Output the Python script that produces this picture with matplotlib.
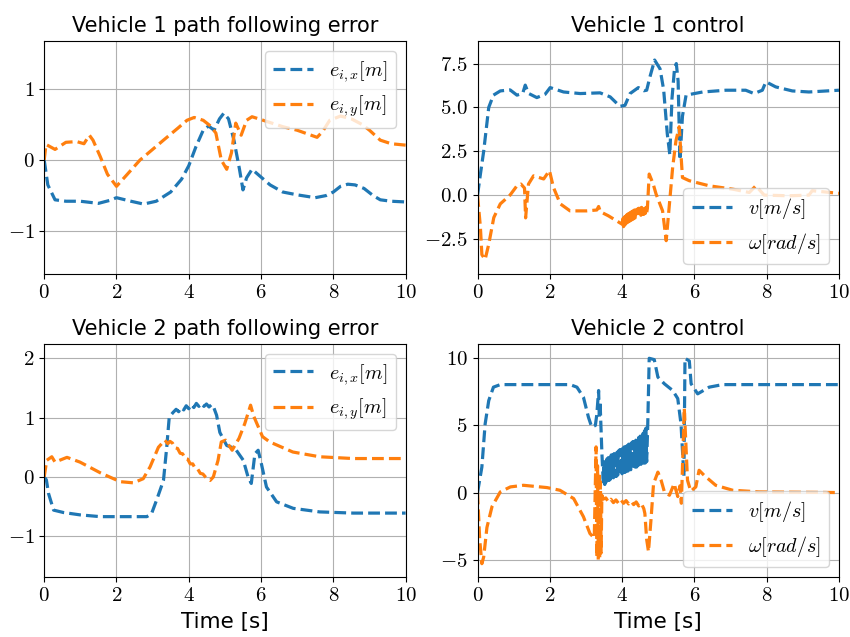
import matplotlib
matplotlib.use("Agg")
import matplotlib.pyplot as plt

plt.rcParams["font.family"] = "cmr10"
plt.rcParams["mathtext.fontset"] = "cm"
plt.rcParams["axes.formatter.use_mathtext"] = True
plt.rcParams["axes.unicode_minus"] = True

# ---- Vehicle 1 path following error ----
t_e1x = [0.0, 0.1, 0.3, 0.6, 1.0, 1.5, 1.8, 2.0, 2.4, 2.75, 3.1, 3.5, 3.8, 4.0, 4.2, 4.4, 4.55,
         4.7, 4.85, 4.97, 5.1, 5.25, 5.4, 5.5, 5.6, 5.75, 6.0, 6.25, 6.6, 7.0, 7.5, 7.8, 8.0, 8.2,
         8.4, 8.6, 8.85, 9.1, 9.3, 9.6, 10.0]
e1x = [0.0, -0.35, -0.56, -0.58, -0.58, -0.61, -0.57, -0.53, -0.58, -0.62, -0.58, -0.45, -0.27,
       -0.08, 0.19, 0.42, 0.48, 0.42, 0.58, 0.66, 0.58, 0.28, -0.12, -0.42, -0.25, -0.13, -0.24,
       -0.35, -0.45, -0.49, -0.53, -0.50, -0.45, -0.37, -0.34, -0.35, -0.40, -0.50, -0.56, -0.58, -0.59]

t_e1y = [0.0, 0.05, 0.3, 0.6, 0.9, 1.1, 1.25, 1.35, 1.55, 1.75, 2.0, 2.3, 2.65, 3.0, 3.3, 3.7, 3.95,
         4.15, 4.4, 4.6, 4.75, 4.9, 5.05, 5.18, 5.3, 5.45, 5.6, 5.75, 6.0, 6.6, 7.0, 7.55, 7.7, 7.9,
         8.2, 8.5, 8.8, 9.0, 9.3, 9.6, 10.0]
e1y = [0.0, 0.22, 0.15, 0.25, 0.26, 0.23, 0.35, 0.28, 0.05, -0.20, -0.37, -0.20, 0.0, 0.15, 0.28,
       0.45, 0.56, 0.60, 0.56, 0.48, 0.38, 0.0, -0.13, 0.10, 0.52, 0.35, 0.56, 0.61, 0.57, 0.47,
       0.42, 0.32, 0.40, 0.56, 0.62, 0.58, 0.50, 0.42, 0.28, 0.23, 0.21]

# ---- Vehicle 1 control ----
t_v1 = [0.0, 0.08, 0.17, 0.31, 0.44, 0.63, 0.9, 1.09, 1.25, 1.32, 1.41, 1.64, 1.87, 2.01, 2.38,
        2.84, 3.39, 3.67, 3.94, 4.08, 4.22, 4.45, 4.6, 4.68, 4.77, 4.9, 5.05, 5.15, 5.25, 5.32,
        5.38, 5.45, 5.5, 5.55, 5.6, 5.67, 5.77, 6.23, 6.87, 7.42, 7.65, 7.88, 7.98, 8.25, 8.71,
        9.17, 10.0]
v1 = [0.0, 1.2, 2.5, 5.0, 5.7, 5.94, 6.0, 5.7, 5.8, 6.27, 5.8, 5.56, 5.75, 6.13, 5.88, 5.79, 5.83,
      5.6, 5.06, 5.12, 5.79, 6.13, 5.95, 5.98, 6.74, 7.7, 7.2, 6.0, 3.5, 2.3, 5.5, 7.2, 7.5, 6.5,
      2.0, 4.5, 5.7, 5.88, 5.98, 5.98, 5.79, 5.98, 6.46, 6.17, 5.94, 5.88, 5.98]

t_w1 = [0.0, 0.08, 0.12, 0.21, 0.31, 0.45, 0.63, 0.9, 1.09, 1.2, 1.3, 1.33, 1.41, 1.55, 1.83, 1.99,
        2.1, 2.29, 2.56, 3.02, 3.3, 3.35, 3.4, 3.62, 4.0,
        4.02, 4.04, 4.06, 4.08, 4.10, 4.12, 4.14, 4.16, 4.18, 4.20, 4.22, 4.24, 4.26, 4.28, 4.30,
        4.32, 4.34, 4.36, 4.38, 4.40, 4.42, 4.44, 4.46, 4.48, 4.50, 4.52, 4.54, 4.56, 4.58, 4.60,
        4.62, 4.64, 4.66, 4.68,
        4.70, 4.75, 4.86, 4.94, 5.12, 5.22, 5.31, 5.4, 5.49, 5.58, 5.67, 5.86, 6.41, 7.06, 7.52,
        7.7, 7.93, 8.62, 9.17, 9.26, 10.0]
w1 = [0.0, -1.85, -3.4, -3.67, -2.8, -1.28, -0.5, 0.0, 0.53, 0.63, 0.4, -1.3, 0.63, 1.1, 0.92, 1.4,
      0.44, -0.5, -0.9, -0.9, -0.85, -0.65, -0.95, -1.18, -1.66,
      -1.35, -1.8, -1.25, -1.7, -1.2, -1.6, -1.1, -1.55, -1.05, -1.5, -1.0, -1.45, -0.95, -1.4, -0.9,
      -1.35, -0.85, -1.3, -0.85, -1.25, -0.8, -1.25, -0.75, -1.2, -0.75, -1.15, -0.7, -1.1, -0.7,
      -1.1, -0.65, -1.05, -0.7, -1.0,
      -0.75, 1.2, 0.63, 0.06, -0.9, -2.6, -0.5, 1.6, 3.1, 3.9, 1.0, 0.82, 0.53, 0.34, 0.15,
      0.53, 0.0, -0.04, 0.0, 0.25, 0.1]

# ---- Vehicle 2 path following error ----
t_e2x = [0.0, 0.06, 0.12, 0.26, 0.53, 0.99, 1.55, 2.19, 2.84, 2.97, 3.11, 3.3, 3.39, 3.46, 3.57,
         3.65, 3.72, 3.79, 3.86, 3.93, 4.0, 4.07, 4.14, 4.21, 4.28, 4.35, 4.42, 4.49, 4.56, 4.63,
         4.68, 4.77, 4.86, 5.05, 5.28, 5.51, 5.64, 5.73, 5.83, 5.92, 6.01, 6.15, 6.43, 6.89, 7.62,
         8.55, 10.0]
e2x = [0.0, -0.05, -0.28, -0.56, -0.6, -0.64, -0.67, -0.67, -0.67, -0.62, -0.39, -0.06, 0.5, 1.01,
       1.09, 1.14, 1.10, 1.17, 1.13, 1.20, 1.15, 1.22, 1.17, 1.24, 1.19, 1.24, 1.19, 1.23, 1.18, 1.22,
       1.19, 1.04, 0.75, 0.53, 0.48, 0.28, 0.0, -0.11, 0.39, 0.45, 0.22, -0.17, -0.42, -0.53, -0.59,
       -0.61, -0.61]

t_e2y = [0.0, 0.07, 0.21, 0.3, 0.63, 0.99, 1.55, 2.1, 2.47, 2.74, 2.93, 3.16, 3.34, 3.42, 3.48,
         3.55, 3.62, 3.69, 3.76, 3.83, 3.90, 3.97, 4.04, 4.11, 4.18, 4.25, 4.32, 4.39, 4.46, 4.53,
         4.59, 4.68, 4.81, 4.9, 5.02, 5.2, 5.39, 5.55, 5.71, 5.8, 6.04, 6.24, 6.88, 7.62, 8.55, 10.0]
e2y = [0.0, 0.28, 0.34, 0.25, 0.33, 0.25, 0.07, -0.08, -0.1, -0.03, 0.17, 0.5, 0.62, 0.56, 0.6,
       0.57, 0.49, 0.48, 0.40, 0.39, 0.31, 0.30, 0.22, 0.22, 0.14, 0.13, 0.06, 0.05, 0.0, -0.04,
       -0.06, 0.0, 0.28, 0.59, 0.62, 0.45, 0.65, 0.9, 1.21, 1.02, 0.68, 0.59, 0.42, 0.34, 0.31, 0.31]

# ---- Vehicle 2 control ----
t_v2 = [0.0, 0.12, 0.21, 0.31, 0.44, 0.63, 1.27, 2.56, 2.75, 2.93, 3.07, 3.16, 3.26, 3.3, 3.35,
        3.37, 3.39, 3.44, 3.48,
        3.50, 3.52, 3.54, 3.56, 3.58, 3.60, 3.62, 3.64, 3.66, 3.68, 3.70, 3.72, 3.74, 3.76, 3.78,
        3.80, 3.82, 3.84, 3.86, 3.88, 3.90, 3.92, 3.94, 3.96, 3.98, 4.00, 4.02, 4.04, 4.06, 4.08,
        4.10, 4.12, 4.14, 4.16, 4.18, 4.20, 4.22, 4.24, 4.26, 4.28, 4.30, 4.32, 4.34, 4.36, 4.38,
        4.40, 4.42, 4.44, 4.46, 4.48, 4.50, 4.52, 4.54, 4.56, 4.58, 4.60, 4.62, 4.64, 4.66, 4.68,
        4.71, 4.75, 4.89, 4.99, 5.17, 5.4, 5.54, 5.63, 5.71, 5.74, 5.86, 5.91, 6.09, 6.41, 6.78, 10.0]
v2 = [0.0, 1.9, 5.1, 6.85, 7.85, 8.04, 8.04, 8.04, 7.85, 7.1, 5.6, 4.87, 5.0, 5.8, 7.6, 5.5, 6.8,
      3.0, 0.67,
      2.3, 0.6, 2.4, 0.8, 2.5, 0.9, 2.6, 0.9, 2.7, 1.0, 2.8, 1.1, 2.8, 1.1, 2.9, 1.2, 3.0, 1.2,
      3.0, 1.3, 3.1, 1.3, 3.2, 1.4, 3.2, 1.4, 3.3, 1.5, 3.4, 1.5, 3.4, 1.6, 3.5, 1.6, 3.6, 1.7,
      3.6, 1.7, 3.7, 1.8, 3.8, 1.8, 3.8, 1.9, 3.9, 1.9, 4.0, 2.0, 4.1, 2.0, 4.2, 2.1, 4.3, 2.1,
      4.4, 2.2, 4.6, 2.2, 4.8, 2.3,
      5.1, 10.0, 9.9, 8.6, 8.1, 7.6, 7.0, 5.1, 1.2, 10.0, 9.8, 8.1, 7.35, 7.85, 8.04, 8.04]

t_w2 = [0.0, 0.06, 0.12, 0.17, 0.26, 0.4, 0.63, 0.91, 1.27, 1.92, 2.28, 2.66, 2.93, 3.11, 3.23,
        3.28, 3.30, 3.32, 3.34, 3.36, 3.38, 3.40, 3.42, 3.44, 3.47,
        3.55, 3.62, 3.69, 3.76, 3.83, 3.90, 3.97, 4.04, 4.11, 4.18, 4.25, 4.32, 4.39, 4.46, 4.53, 4.60,
        4.63, 4.68, 4.73, 4.80, 4.87, 4.99, 5.08, 5.17, 5.31, 5.44, 5.54, 5.6, 5.64, 5.72, 5.81, 5.9,
        6.04, 6.13, 6.27, 6.59, 7.06, 7.79, 10.0]
w2 = [0.0, -3.5, -5.3, -4.8, -2.6, -1.05, 0.05, 0.42, 0.54, 0.37, 0.17, -0.45, -1.8, -3.05, -3.4,
      3.4, -4.8, 2.0, -5.0, 1.5, -4.9, 0.8, -4.5, -0.2, -0.5,
      -0.4, -0.7, -0.5, -0.75, -0.55, -0.8, -0.55, -0.8, -0.6, -0.85, -0.65, -0.9, -0.7, -1.0, -0.8, -1.2,
      -1.56, -3.5, -4.4, -2.0, 0.66, 1.52, 0.91, 0.05, -0.2, 0.66, -0.3, 0.5, -0.8, 6.3, 0.91, 0.1,
      0.42, 1.66, 1.28, 0.54, 0.17, 0.05, 0.0]

titles = ["Vehicle 1 path following error", "Vehicle 1 control",
          "Vehicle 2 path following error", "Vehicle 2 control"]
err_labels = [r"$e_{i,x}[m]$", r"$e_{i,y}[m]$"]
ctrl_labels = [r"$v[m/s]$", r"$\omega[rad/s]$"]

fig, axes = plt.subplots(2, 2, figsize=(8.5, 6.37), dpi=100)
plt.subplots_adjust(left=0.052, right=0.987, top=0.936, bottom=0.094, wspace=0.199, hspace=0.296)

panels = [
    ((t_e1x, e1x), (t_e1y, e1y), err_labels, "upper right", (-1.61, 1.68), [-1, 0, 1]),
    ((t_v1, v1), (t_w1, w1), ctrl_labels, "lower right", (-4.52, 8.8), [-2.5, 0, 2.5, 5, 7.5]),
    ((t_e2x, e2x), (t_e2y, e2y), err_labels, "upper right", (-1.69, 2.25), [-1, 0, 1, 2]),
    ((t_v2, v2), (t_w2, w2), ctrl_labels, "lower right", (-6.3, 11.1), [-5, 0, 5, 10]),
]

for ax, title, (b, c, labels, loc, ylim, yt) in zip(axes.flat, titles, panels):
    ax.plot(b[0], b[1], "--", color="#1f77b4", lw=2.3, label=labels[0])
    ax.plot(c[0], c[1], "--", color="#ff7f0e", lw=2.3, label=labels[1])
    ax.set_xlim(0, 10)
    ax.set_ylim(*ylim)
    ax.set_yticks(yt)
    ax.set_xticks([0, 2, 4, 6, 8, 10])
    ax.tick_params(labelsize=15)
    ax.grid(True)
    ax.set_title(title, fontfamily="DejaVu Sans", fontsize=15)
    ax.legend(loc=loc, fontsize=14.5)

for ax in axes[1]:
    ax.set_xlabel("Time [s]", fontfamily="DejaVu Sans", fontsize=15.5, labelpad=5)

plt.savefig("out.png", dpi=100)
